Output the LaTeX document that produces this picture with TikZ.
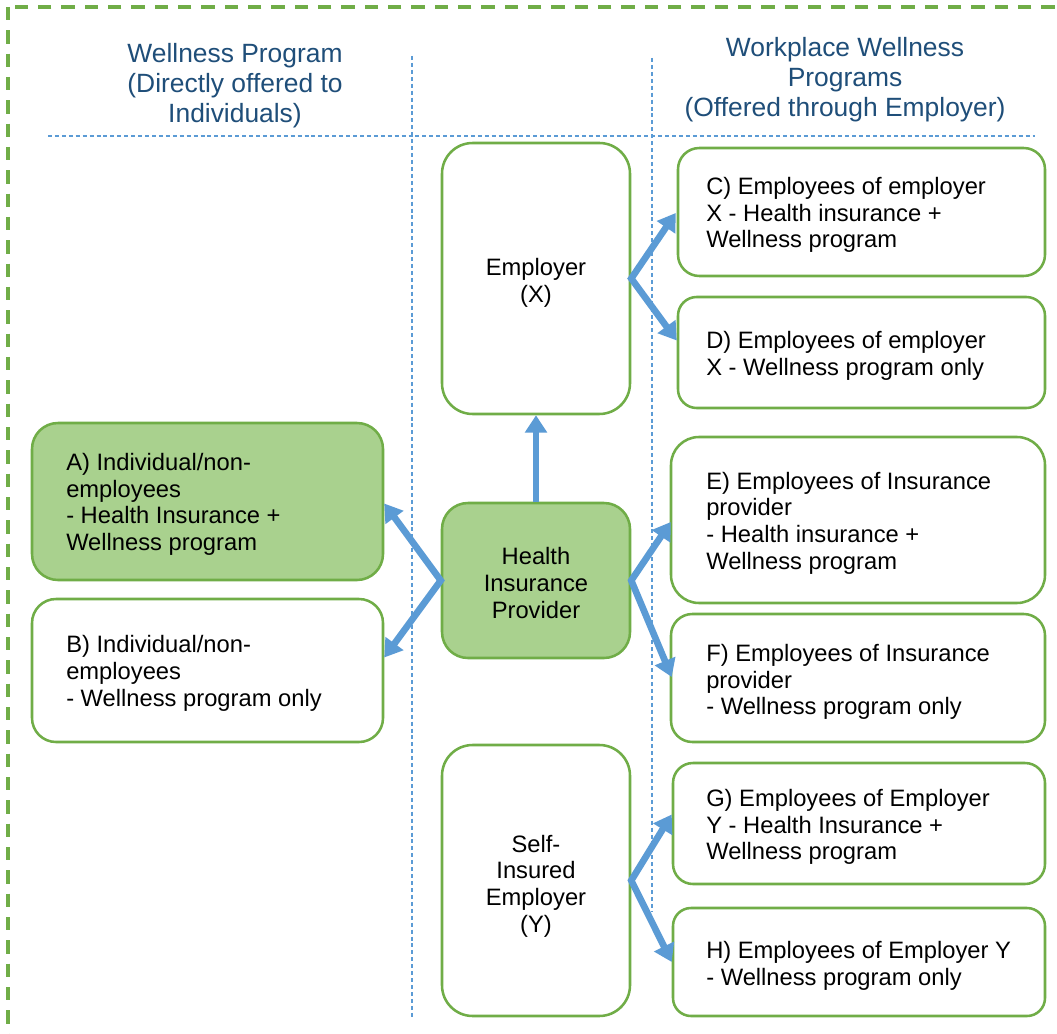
\documentclass[tikz,border=0pt]{standalone}
\usepackage{fontspec}
\setmainfont{Liberation Sans}
\usetikzlibrary{arrows.meta,fit,calc}
\definecolor{gborder}{HTML}{70AD47}
\definecolor{gfill}{HTML}{A9D18E}
\definecolor{ablue}{HTML}{5B9BD5}
\definecolor{htext}{HTML}{1F4E79}
\newcommand{\mybodyfont}{\fontsize{17.8}{20}\selectfont}
\newcommand{\myheadfont}{\fontsize{19.8}{22.5}\selectfont}
\tikzset{
  box/.style={draw=gborder, line width=1.9pt, fill=white, inner sep=0pt},
  gbox/.style={box, fill=gfill},
  txt/.style={font=\mybodyfont, align=left, inner sep=0pt, anchor=west},
  ctxt/.style={font=\mybodyfont, align=center, inner sep=0pt},
  head/.style={font=\myheadfont, align=center, text=htext, inner sep=0pt},
  guide/.style={draw=ablue, line width=0.8pt, dash pattern=on 3pt off 2.2pt},
  frame/.style={draw=gborder, line width=2.6pt, dash pattern=on 10pt off 7.5pt},
  arr/.style={draw=ablue, line width=5pt, line join=miter, -{Triangle[length=13pt,width=16pt]}},
  arr2/.style={draw=ablue, line width=5pt, line join=miter, {Triangle[length=13pt,width=16pt]}-{Triangle[length=13pt,width=16pt]}}
}
\begin{document}
\begin{tikzpicture}[x=0.75pt,y=-0.75pt]
\useasboundingbox (0,0) rectangle (1057,1034);
\fill[white] (0,0) rectangle (1057,1034);
\begin{scope}
\clip (0,0) rectangle (1057,1034);
\draw[frame] (8,7) rectangle (1090,1070);
\end{scope}
% guide lines
\coordinate (h1) at (48,136);
\coordinate (h2) at (1035,136);
\coordinate (v1a) at (412,56);
\coordinate (v1b) at (412,1018);
\coordinate (v2a) at (652,58);
\coordinate (v2b) at (652,912);
\draw[guide] (h1) -- (h2);
\draw[guide] (v1a) -- (v1b);
\draw[guide] (v2a) -- (v2b);
% headers
\node[head] (hl) at (235,86) {Wellness Program\\(Directly offered to\\Individuals)};
\node[head] (hr) at (845,80) {Workplace Wellness\\Programs\\(Offered through Employer)};
% center boxes
\node[box, rounded corners=23pt, fit={(442,143) (630,414)}] (X) {};
\node[gbox, rounded corners=19.5pt, fit={(442,503) (630,658)}] (HIP) {};
\node[box, rounded corners=23pt, fit={(442,745) (630,1016)}] (Y) {};
% left boxes
\node[gbox, rounded corners=19.5pt, fit={(32,423) (383,580)}] (A) {};
\node[box, rounded corners=18pt, fit={(32,599) (383,742)}] (B) {};
% right boxes
\node[box, rounded corners=16pt, fit={(678,148) (1045,276)}] (C) {};
\node[box, rounded corners=14pt, fit={(678,297) (1045,408)}] (D) {};
\node[box, rounded corners=21pt, fit={(671,437) (1045,603)}] (E) {};
\node[box, rounded corners=16pt, fit={(671,614) (1045,742)}] (F) {};
\node[box, rounded corners=15pt, fit={(673,763) (1045,884)}] (G) {};
\node[box, rounded corners=13.5pt, fit={(673,908) (1045,1016)}] (H) {};
% texts
\node[ctxt] (Xt) at (536,283) {Employer\\(X)};
\node[ctxt] (HIPt) at (536,583) {Health\\Insurance\\Provider};
\node[ctxt] (Yt) at (536,886) {Self-\\Insured\\Employer\\(Y)};
\node[txt] (At) at (66,504.5) {A) Individual/non-\\employees\\- Health Insurance +\\Wellness program};
\node[txt] (Bt) at (66,673.5) {B) Individual/non-\\employees\\- Wellness program only};
\node[txt] (Ct) at (706,215) {C) Employees of employer\\X - Health insurance +\\Wellness program};
\node[txt] (Dt) at (706,356) {D) Employees of employer\\X - Wellness program only};
\node[txt] (Et) at (706,523) {E) Employees of Insurance\\provider\\- Health insurance +\\Wellness program};
\node[txt] (Ft) at (706,682) {F) Employees of Insurance\\provider\\- Wellness program only};
\node[txt] (Gt) at (706,827) {G) Employees of Employer\\Y - Health Insurance +\\Wellness program};
\node[txt] (Ht) at (706,966) {H) Employees of Employer Y\\- Wellness program only};
% arrows
\draw[arr] (HIP.north) -- (X.south);
\draw[arr2] ($(A.east)+(0,2)$) -- (HIP.west) -- ($(B.east)+(0,-13)$);
\draw[arr2] ($(E.west)+(1,2)$) -- (HIP.east) -- ($(F.west)+(2,-1)$);
\draw[arr2] ($(C.west)+(-1,1)$) -- (X.east) -- ($(D.west)+(0,-12)$);
\draw[arr2] ($(G.west)+(0,-9)$) -- (Y.east) -- (H.west);
\end{tikzpicture}
\end{document}
